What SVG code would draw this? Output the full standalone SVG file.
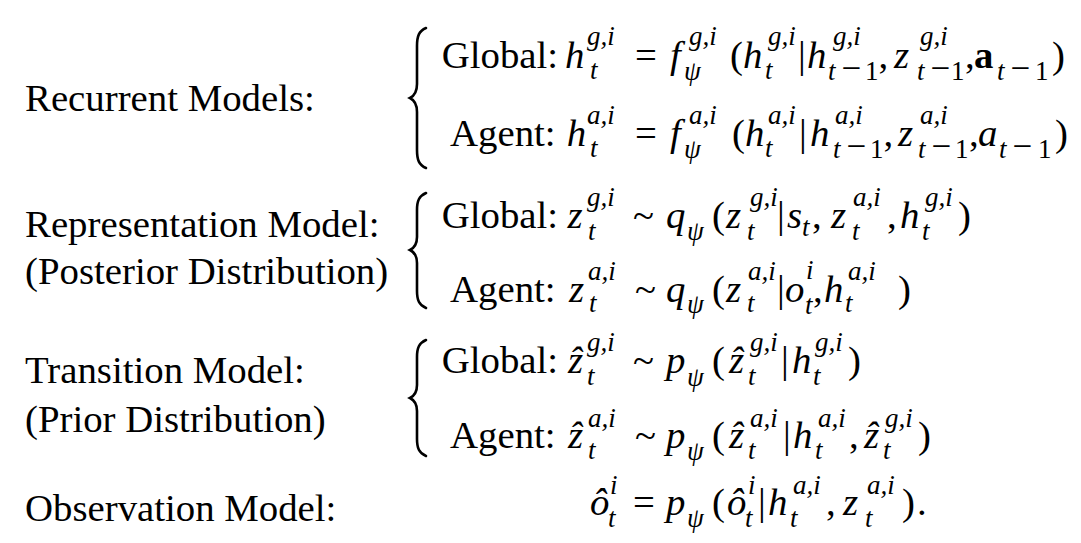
<svg xmlns="http://www.w3.org/2000/svg" width="1081" height="543" viewBox="0 0 1081 543">
<style>
text{font-family:"Liberation Serif","Times New Roman",serif;font-size:38.8px;fill:#000}
.i{font-style:italic}
.s{font-size:27px}
.mn{font-size:35px;font-style:normal}
.b{font-weight:bold}
.br{fill:none;stroke:#000;stroke-width:2.6;stroke-linecap:round}
</style>
<rect width="1081" height="543" fill="#fff"/>
<g id="labels">
<text x="25" y="110.7">Recurrent Models:</text>
<text x="25" y="236.7">Representation Model:</text>
<text x="25" y="284">(Posterior Distribution)</text>
<text x="25" y="383.3">Transition Model:</text>
<text x="25" y="431.7">(Prior Distribution)</text>
<text x="25" y="521">Observation Model:</text>
</g>
<g id="braces">
<path class="br" d="M426,28 C419,31 417,36 417,46 L417,84 C417,92 414,96 410,98 C414,100 417,104 417,112 L417,150 C417,160 419,165 426,168"/>
<path class="br" d="M426,193 C419,196 417,201 417,210 L417,237 C417,244 414,248 410,250 C414,252 417,256 417,263 L417,291 C417,300 419,305 426,308"/>
<path class="br" d="M426,340 C419,343 417,348 417,357 L417,385 C417,392 414,396 410,398 C414,400 417,404 417,411 L417,439 C417,448 419,453 426,456"/>
</g>
<g id="row1">
<text x="441.7" y="68">Global:</text>
<text class="i" x="565" y="68">h</text>
<text class="i s" x="587" y="45">g,i</text>
<text class="i s" x="590" y="79">t</text>
<text x="635" y="68">=</text>
<text class="i" x="670" y="68">f</text>
<text class="i s" x="684" y="80">ψ</text>
<text class="i s" x="689" y="45">g,i</text>
<text x="730" y="68">(</text>
<text class="i" x="743" y="68">h</text>
<text class="i s" x="768" y="45">g,i</text>
<text class="i s" x="765" y="79">t</text>
<text x="798" y="68">|</text>
<text class="i" x="807" y="68">h</text>
<text class="i s" x="833" y="45">g,i</text>
<text class="s" y="80"><tspan class="i" x="828">t</tspan><tspan class="mn" x="841.5">−</tspan><tspan x="865">1</tspan></text>
<text x="878.5" y="68">,</text>
<text class="i" x="894" y="68">z</text>
<text class="i s" x="920" y="45">g,i</text>
<text class="s" y="80"><tspan class="i" x="917">t</tspan><tspan class="mn" x="930.5">−</tspan><tspan x="951">1</tspan></text>
<text x="965" y="68">,</text>
<text class="b" x="974" y="68">a</text>
<text class="s" y="80"><tspan class="i" x="997">t</tspan><tspan class="mn" x="1010.5">−</tspan><tspan x="1035">1</tspan></text>
<text x="1052" y="68">)</text>
</g>
<g id="row2">
<text x="450" y="146">Agent:</text>
<text class="i" x="566.7" y="146">h</text>
<text class="i s" x="587" y="124">a,i</text>
<text class="i s" x="590" y="157">t</text>
<text x="635" y="146">=</text>
<text class="i" x="670" y="146">f</text>
<text class="i s" x="684" y="158">ψ</text>
<text class="i s" x="689" y="124">a,i</text>
<text x="732" y="146">(</text>
<text class="i" x="745" y="146">h</text>
<text class="i s" x="768" y="124">a,i</text>
<text class="i s" x="765" y="157">t</text>
<text x="799" y="146">|</text>
<text class="i" x="810" y="146">h</text>
<text class="i s" x="835" y="124">a,i</text>
<text class="s" y="158"><tspan class="i" x="833">t</tspan><tspan class="mn" x="846.5">−</tspan><tspan x="870">1</tspan></text>
<text x="883.5" y="146">,</text>
<text class="i" x="898" y="146">z</text>
<text class="i s" x="920" y="124">a,i</text>
<text class="s" y="158"><tspan class="i" x="918">t</tspan><tspan class="mn" x="931.5">−</tspan><tspan x="955">1</tspan></text>
<text x="969" y="146">,</text>
<text class="i" x="978" y="146">a</text>
<text class="s" y="158"><tspan class="i" x="999">t</tspan><tspan class="mn" x="1012.5">−</tspan><tspan x="1038">1</tspan></text>
<text x="1055" y="146">)</text>
</g>
<g id="row3">
<text x="441.7" y="228">Global:</text>
<text class="i" x="567.5" y="228">z</text>
<text class="i s" x="587" y="206">g,i</text>
<text class="i s" x="588" y="240">t</text>
<text x="633" y="228">~</text>
<text class="i" x="666" y="228">q</text>
<text class="i s" x="687" y="240">ψ</text>
<text x="712" y="228">(</text>
<text class="i" x="726" y="228">z</text>
<text class="i s" x="750" y="206">g,i</text>
<text class="i s" x="747" y="240">t</text>
<text x="777" y="228">|</text>
<text class="i" x="787" y="228">s</text>
<text class="i s" x="802" y="236">t</text>
<text x="812" y="228">,</text>
<text class="i" x="831" y="228">z</text>
<text class="i s" x="853" y="206">a,i</text>
<text class="i s" x="852" y="240">t</text>
<text x="887" y="228">,</text>
<text class="i" x="900" y="228">h</text>
<text class="i s" x="925" y="206">g,i</text>
<text class="i s" x="922" y="240">t</text>
<text x="958" y="228">)</text>
</g>
<g id="row4">
<text x="450" y="302">Agent:</text>
<text class="i" x="569" y="302">z</text>
<text class="i s" x="588" y="280">a,i</text>
<text class="i s" x="589" y="312">t</text>
<text x="635" y="302">~</text>
<text class="i" x="666" y="302">q</text>
<text class="i s" x="687" y="313">ψ</text>
<text x="712" y="302">(</text>
<text class="i" x="726" y="302">z</text>
<text class="i s" x="748" y="280">a,i</text>
<text class="i s" x="747" y="312">t</text>
<text x="777" y="302">|</text>
<text class="i" x="785" y="302">o</text>
<text class="i s" x="806" y="279">i</text>
<text class="i s" x="805" y="314">t</text>
<text x="813" y="302">,</text>
<text class="i" x="824" y="302">h</text>
<text class="i s" x="848" y="280">a,i</text>
<text class="i s" x="845" y="312">t</text>
<text x="898" y="302">)</text>
</g>
<g id="row5">
<text x="441.7" y="373.3">Global:</text>
<text class="i" x="568" y="373.3">ẑ</text>
<text class="i s" x="587" y="351">g,i</text>
<text class="i s" x="587" y="385">t</text>
<text x="633" y="373.3">~</text>
<text class="i" x="666" y="373.3">p</text>
<text class="i s" x="687" y="386">ψ</text>
<text x="712" y="373.3">(</text>
<text class="i" x="729" y="373.3">ẑ</text>
<text class="i s" x="750" y="351">g,i</text>
<text class="i s" x="748" y="385">t</text>
<text x="781" y="373.3">|</text>
<text class="i" x="792" y="373.3">h</text>
<text class="i s" x="815" y="351">g,i</text>
<text class="i s" x="813" y="385">t</text>
<text x="848" y="373.3">)</text>
</g>
<g id="row6">
<text x="450" y="448.3">Agent:</text>
<text class="i" x="568" y="448.3">ẑ</text>
<text class="i s" x="588" y="427">a,i</text>
<text class="i s" x="588" y="459">t</text>
<text x="635" y="448.3">~</text>
<text class="i" x="666" y="448.3">p</text>
<text class="i s" x="687" y="460">ψ</text>
<text x="712" y="448.3">(</text>
<text class="i" x="729" y="448.3">ẑ</text>
<text class="i s" x="750" y="427">a,i</text>
<text class="i s" x="748" y="459">t</text>
<text x="783" y="448.3">|</text>
<text class="i" x="793" y="448.3">h</text>
<text class="i s" x="818" y="427">a,i</text>
<text class="i s" x="815" y="459">t</text>
<text x="849" y="448.3">,</text>
<text class="i" x="864" y="448.3">ẑ</text>
<text class="i s" x="885" y="427">g,i</text>
<text class="i s" x="883" y="459">t</text>
<text x="918" y="448.3">)</text>
</g>
<g id="row7">
<text class="i" x="590" y="515">ô</text>
<text class="i s" x="610" y="494">i</text>
<text class="i s" x="608" y="527">t</text>
<text x="633" y="515">=</text>
<text class="i" x="666" y="515">p</text>
<text class="i s" x="687" y="527">ψ</text>
<text x="712" y="515">(</text>
<text class="i" x="727" y="515">ô</text>
<text class="i s" x="748" y="494">i</text>
<text class="i s" x="745" y="527">t</text>
<text x="758" y="515">|</text>
<text class="i" x="768" y="515">h</text>
<text class="i s" x="793" y="494">a,i</text>
<text class="i s" x="790" y="527">t</text>
<text x="826" y="515">,</text>
<text class="i" x="843" y="515">z</text>
<text class="i s" x="867" y="494">a,i</text>
<text class="i s" x="865" y="527">t</text>
<text x="902" y="515">)</text>
<text x="917" y="515">.</text>
</g>
</svg>
